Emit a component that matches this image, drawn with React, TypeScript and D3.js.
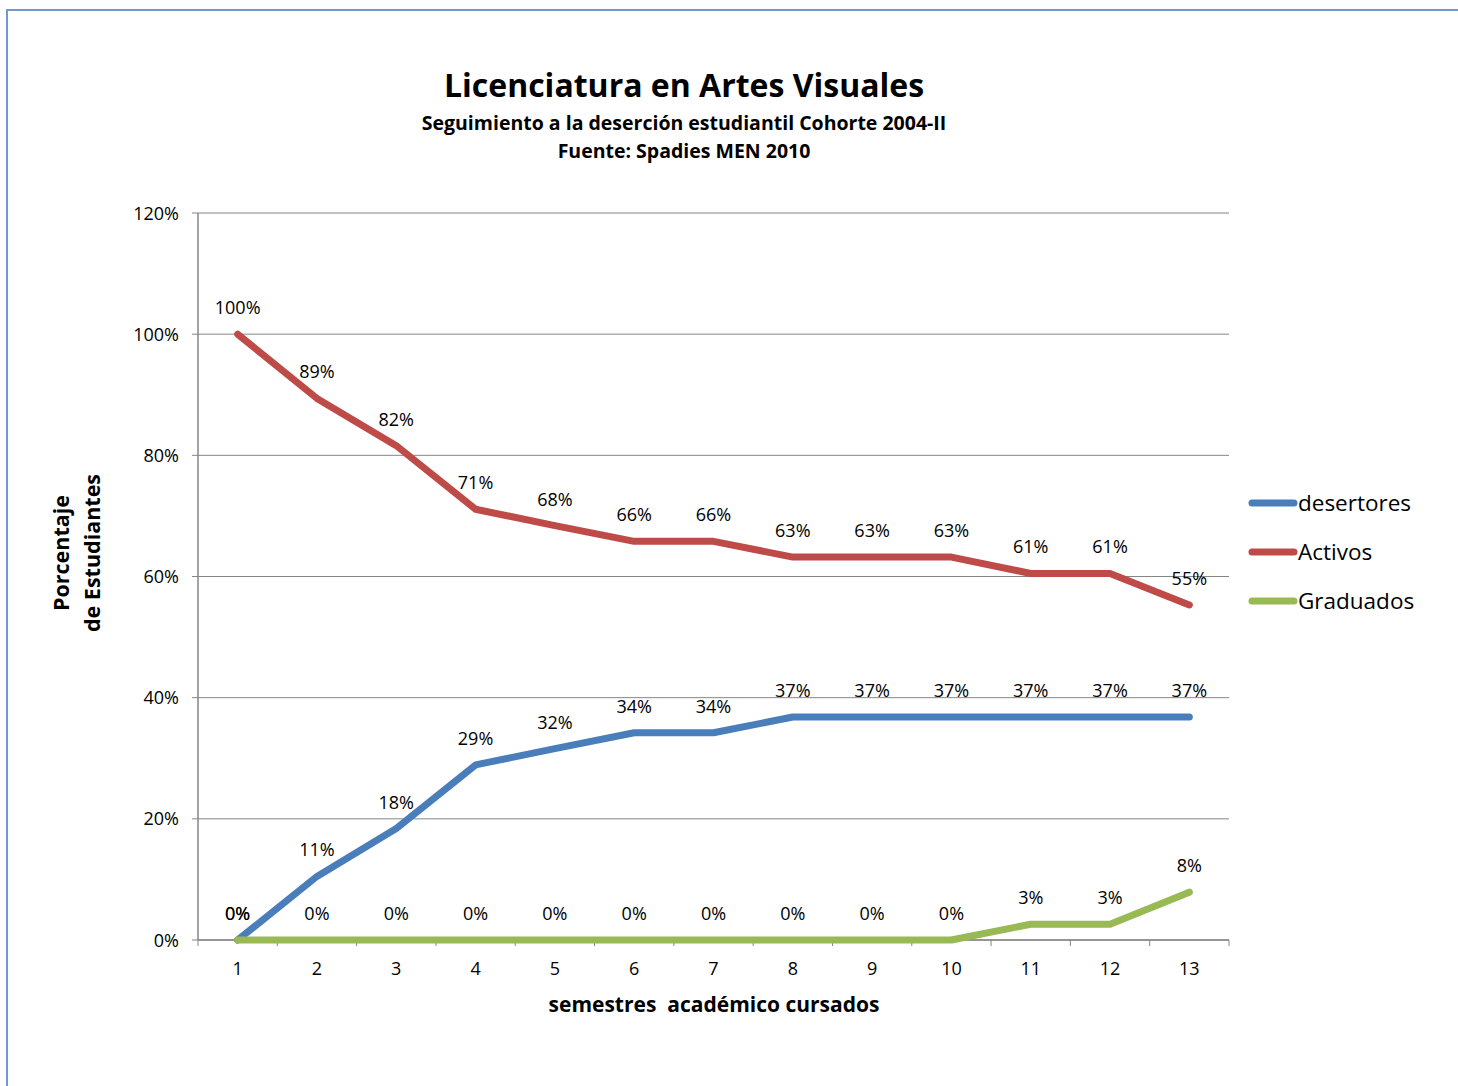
import React from "react";
import * as d3 from "d3";

const semesters = ["1", "2", "3", "4", "5", "6", "7", "8", "9", "10", "11", "12", "13"];
const desertores = [0, 10.5, 18.4, 28.9, 31.6, 34.2, 34.2, 36.8, 36.8, 36.8, 36.8, 36.8, 36.8];
const activos = [100, 89.4, 81.6, 71.1, 68.4, 65.8, 65.8, 63.2, 63.2, 63.2, 60.5, 60.5, 55.3];
const graduados = [0, 0, 0, 0, 0, 0, 0, 0, 0, 0, 2.6, 2.6, 7.9];
const yTicks = [0, 20, 40, 60, 80, 100, 120];
const seriesNames = ["desertores", "Activos", "Graduados"];
const seriesColors = ["#4a7ebb", "#be4b48", "#98b954"];

const FONT = "'Open Sans', 'Noto Sans', sans-serif";

export default function App() {
  const W = 1458, H = 1086;
  const left = 198, right = 1229, top = 213, bottom = 940;
  const x = d3.scaleBand().domain(semesters).range([left, right]);
  const y = d3.scaleLinear().domain([0, 120]).range([bottom, top]);
  const cx = (i: number) => (x(semesters[i]) as number) + x.bandwidth() / 2;
  const line = d3.line<number>().x((_, i) => cx(i)).y((d) => y(d));
  const allSeries = [desertores, activos, graduados];
  const bounds = [...semesters.map((s) => x(s) as number), right];

  return (
    <svg width={W} height={H} style={{ position: "absolute", left: 0, top: 0, background: "#fff" }} fontFamily={FONT}>
      <line x1={7} y1={10} x2={7} y2={H} stroke="#6f99cf" strokeWidth={2} />
      <line x1={6} y1={10} x2={W} y2={10} stroke="#6f99cf" strokeWidth={2} />

      <text x={684} y={97} textAnchor="middle" fontSize={32} fontWeight="bold" fill="#000">Licenciatura en Artes Visuales</text>
      <text x={684} y={130} textAnchor="middle" fontSize={19.5} fontWeight="bold" fill="#000">Seguimiento a la deserción estudiantil Cohorte 2004-II</text>
      <text x={684} y={158} textAnchor="middle" fontSize={19.5} fontWeight="bold" fill="#000">Fuente: Spadies MEN 2010</text>

      {yTicks.map((t) => (
        <g key={t}>
          <line x1={left} x2={right} y1={y(t)} y2={y(t)} stroke="#868686" strokeWidth={1} />
          <line x1={192} x2={left} y1={y(t)} y2={y(t)} stroke="#868686" strokeWidth={1} />
          <text x={179} y={y(t) + 6.5} textAnchor="end" fontSize={18} fill="#000">{t}%</text>
        </g>
      ))}
      <line x1={left} x2={left} y1={top} y2={bottom} stroke="#868686" strokeWidth={1.5} />
      <line x1={left} x2={right} y1={bottom} y2={bottom} stroke="#868686" strokeWidth={1.5} />
      {bounds.map((b, i) => (
        <line key={i} x1={b} x2={b} y1={bottom} y2={bottom + 6} stroke="#868686" strokeWidth={1} />
      ))}
      {semesters.map((s, i) => (
        <text key={s} x={cx(i)} y={975} textAnchor="middle" fontSize={18} fill="#000">{s}</text>
      ))}

      {allSeries.map((vals, k) => (
        <path key={k} d={line(vals) as string} fill="none" stroke={seriesColors[k]} strokeWidth={7}
          strokeLinecap="round" strokeLinejoin="round" />
      ))}
      {allSeries.map((vals, k) => (
        <g key={"l" + k}>
          {vals.map((v, i) => (
            <text key={i} x={cx(i)} y={y(v) - 20} textAnchor="middle" fontSize={18} fill="#000">
              {Math.round(v)}%
            </text>
          ))}
        </g>
      ))}

      <text x={714} y={1012} textAnchor="middle" fontSize={21} fontWeight="bold" fill="#000" style={{ whiteSpace: "pre" }}>semestres  académico cursados</text>
      <g transform="translate(69,553) rotate(-90)">
        <text x={0} y={0} textAnchor="middle" fontSize={21.5} fontWeight="bold" fill="#000">Porcentaje</text>
        <text x={0} y={31} textAnchor="middle" fontSize={21.5} fontWeight="bold" fill="#000">de Estudiantes</text>
      </g>

      {seriesNames.map((n, k) => (
        <g key={n}>
          <line x1={1252} x2={1294} y1={503 + k * 49} y2={503 + k * 49} stroke={seriesColors[k]} strokeWidth={7} strokeLinecap="round" />
          <text x={1298} y={511 + k * 49} fontSize={22.5} fill="#000">{n}</text>
        </g>
      ))}
    </svg>
  );
}
